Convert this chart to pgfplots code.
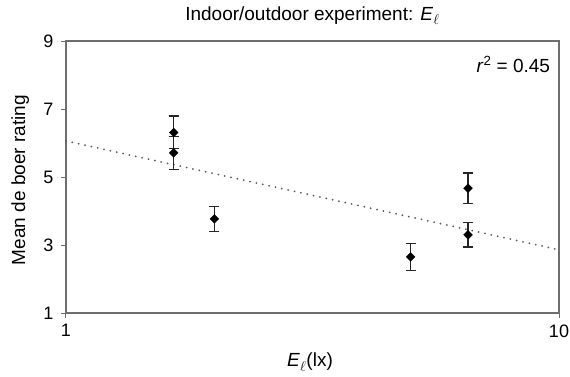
\documentclass[border=0pt]{standalone}
\usepackage{fontspec}
\setmainfont{Liberation Sans}
\usepackage{pgfplots}
\usepackage{pgfplotstable}
\pgfplotsset{compat=1.18}
\pgfplotstableread{
x y e
1.654 6.31 0.48
1.654 5.71 0.48
2.0 3.77 0.37
5.0 2.65 0.39
6.54 4.67 0.45
6.54 3.30 0.36
}\datatab
\definecolor{axgray}{RGB}{110,110,110}
\begin{document}
\begin{tikzpicture}
\begin{axis}[
  scale only axis,
  width=493pt, height=272pt,
  xmode=log,
  xmin=1, xmax=10,
  ymin=1, ymax=9,
  xtick={1,10}, xticklabels={1,10},
  xminorticks=false,
  ytick={1,3,5,7,9},
  xtick pos=bottom, ytick pos=left,
  tick align=outside,
  major tick length=5pt,
  every tick/.style={axgray, line width=1pt},
  axis line style={axgray, line width=1.3pt},
  font=\fontsize{19}{23}\selectfont,
  tick label style={font=\fontsize{18}{22}\selectfont},
  /pgf/number format/assume math mode=true,
  yticklabel style={xshift=-4pt},
  xticklabel style={yshift=-3pt},
  xlabel={\textit{E}$_\ell$(lx)},
  xlabel style={at={(axis description cs:0.495,-0.1985)}, anchor=base},
  ylabel={Mean de boer rating},
  ylabel style={at={(axis description cs:-0.083,0.489)}, anchor=base},
  clip=false,
]
\addplot[gray!70!black, line width=2pt, line cap=round, dash pattern=on 0pt off 6.5pt] coordinates {(1,6.06) (10,2.86)};
\addplot[only marks, black, mark=square*, mark size=3.1pt, mark options={rotate=45},
  error bars/.cd, y dir=both, y explicit,
  error bar style={black!85, line width=1.3pt},
  error mark options={black!85, line width=1.3pt, mark size=5pt, rotate=90}]
  table[x=x, y=y, y error=e] {\datatab};
\node[anchor=base east] at (axis description cs:0.989,0.886) {\textit{r}\textsuperscript{2} = 0.45};
\node[anchor=base] at (axis description cs:0.5,1.074) {Indoor/outdoor experiment: \textit{E}$_\ell$};
\end{axis}
\pgfresetboundingbox
\useasboundingbox (-66pt,-63pt) rectangle (504pt,313pt);
\end{tikzpicture}
\end{document}
